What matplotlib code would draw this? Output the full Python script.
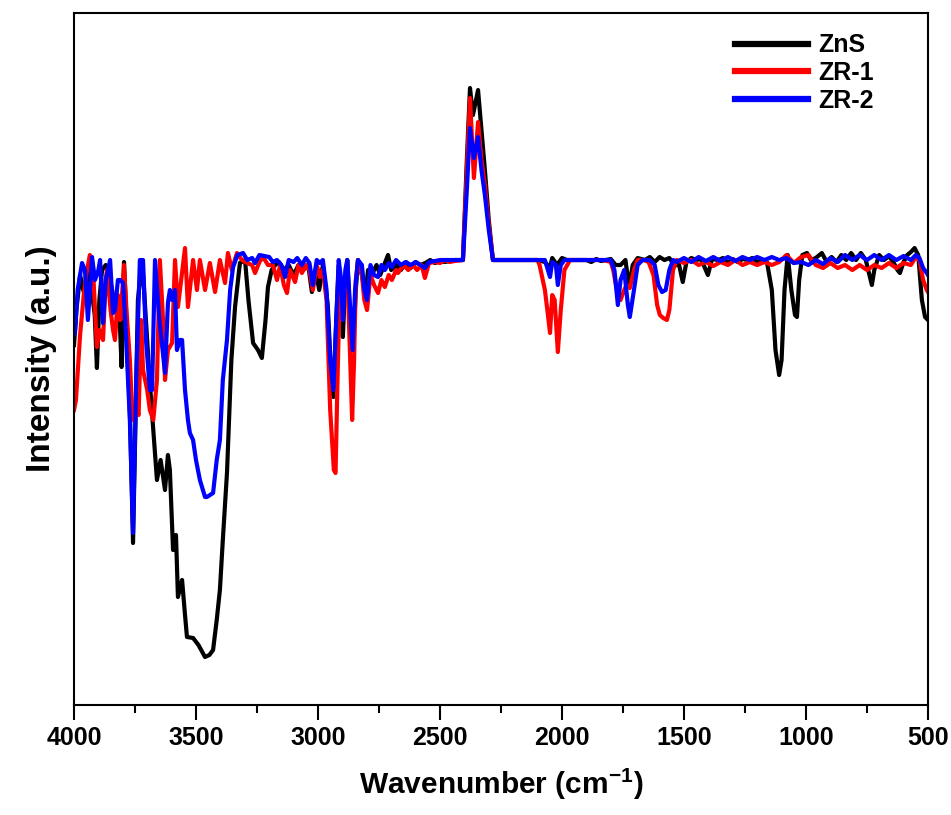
import matplotlib.pyplot as plt
from matplotlib.ticker import MultipleLocator

plt.rcParams['font.family'] = ['Liberation Sans', 'DejaVu Sans']
plt.rcParams['font.weight'] = 'bold'
plt.rcParams['mathtext.fontset'] = 'custom'
plt.rcParams['mathtext.rm'] = 'Liberation Sans:bold'
plt.rcParams['mathtext.bf'] = 'Liberation Sans:bold'

series_names = ['ZnS', 'ZR-1', 'ZR-2']
series_colors = ['black', 'red', 'blue']

# (wavenumber cm-1, intensity a.u.)
zns = [(4000, -0.85), (3990, -0.50), (3975, -0.15), (3962, -0.30), (3950, -0.40), (3938, -0.10),
       (3925, -0.35), (3915, -0.55), (3906, -1.08), (3896, -0.40), (3885, -0.10), (3870, -0.05),
       (3855, -0.15), (3840, -0.35), (3825, -0.45), (3811, -0.70), (3805, -1.07), (3795, -0.02),
       (3785, -0.60), (3770, -1.60), (3758, -2.83), (3748, -1.60), (3738, -0.40), (3725, -0.10),
       (3717, -0.13), (3705, -0.60), (3690, -1.20), (3675, -1.70), (3660, -2.20), (3645, -2.00),
       (3627, -2.30), (3615, -1.95), (3607, -2.10), (3594, -2.90), (3582, -2.75), (3574, -3.37),
       (3557, -3.20), (3545, -3.55), (3537, -3.77), (3512, -3.78), (3490, -3.85), (3463, -3.97),
       (3445, -3.95), (3430, -3.90), (3415, -3.60), (3402, -3.30), (3390, -2.80), (3373, -2.13),
       (3355, -1.00), (3340, -0.47), (3320, -0.03), (3299, 0.00), (3285, -0.40), (3266, -0.83),
       (3246, -0.90), (3230, -0.98), (3215, -0.60), (3205, -0.27), (3190, -0.10), (3175, -0.05),
       (3160, -0.02), (3140, -0.10), (3120, -0.05), (3100, -0.15), (3080, -0.05), (3060, -0.10),
       (3040, -0.05), (3025, -0.32), (3010, -0.10), (2995, -0.30), (2980, -0.05), (2960, -0.45),
       (2945, -1.20), (2937, -1.37), (2925, -0.60), (2915, -0.05), (2905, -0.50), (2898, -0.77),
       (2890, -0.30), (2880, 0.00), (2868, -0.60), (2857, -0.90), (2845, -0.30), (2836, 0.00),
       (2820, -0.15), (2805, -0.35), (2795, -0.10), (2780, -0.15), (2760, -0.05), (2745, -0.15),
       (2713, 0.05), (2700, -0.10), (2680, -0.05), (2660, -0.10), (2640, -0.02), (2620, -0.08),
       (2600, -0.02), (2580, -0.05), (2560, -0.03), (2540, 0.00), (2520, -0.03), (2500, -0.01),
       (2480, -0.02), (2460, -0.01), (2440, 0.00), (2406, 0.00), (2390, 1.00), (2377, 1.72),
       (2365, 1.45), (2344, 1.70), (2330, 1.30), (2316, 0.90), (2300, 0.40), (2283, 0.00),
       (2200, 0.00), (2100, 0.00), (2070, -0.02), (2050, -0.08), (2040, 0.02), (2020, -0.05),
       (2000, 0.02), (1980, 0.00), (1900, 0.00), (1880, -0.02), (1860, 0.01), (1840, -0.01),
       (1800, 0.01), (1780, -0.05), (1760, -0.05), (1740, 0.00), (1725, -0.27), (1710, -0.05),
       (1690, 0.02), (1660, 0.00), (1640, 0.03), (1620, -0.02), (1600, 0.03), (1580, 0.00),
       (1560, 0.02), (1540, -0.05), (1520, -0.05), (1505, -0.22), (1490, -0.02), (1470, 0.02),
       (1450, 0.00), (1430, 0.01), (1402, -0.15), (1385, 0.01), (1360, 0.00), (1340, 0.02),
       (1320, -0.03), (1300, 0.01), (1280, -0.02), (1260, 0.01), (1240, 0.00), (1220, 0.02),
       (1200, -0.02), (1180, 0.00), (1160, -0.02), (1140, -0.30), (1125, -0.90), (1110, -1.15),
       (1100, -1.00), (1088, -0.30), (1075, 0.05), (1060, -0.30), (1045, -0.55), (1037, -0.57),
       (1028, -0.20), (1015, 0.05), (996, 0.07), (980, 0.00), (960, 0.02), (935, 0.07),
       (915, -0.02), (895, 0.03), (875, -0.02), (855, 0.05), (835, 0.00), (815, 0.07),
       (795, 0.00), (775, 0.07), (755, 0.00), (740, -0.15), (730, -0.25), (720, -0.10),
       (700, 0.05), (680, 0.00), (660, 0.04), (640, -0.03), (625, -0.10), (615, -0.13),
       (600, -0.02), (585, 0.05), (570, 0.08), (555, 0.12), (540, 0.05), (525, -0.40),
       (512, -0.57), (500, -0.60)]

zr1 = [(4000, -1.50), (3992, -1.40), (3975, -0.75), (3960, -0.35), (3950, -0.15), (3935, 0.05),
       (3922, -0.10), (3906, -0.87), (3895, -0.70), (3881, -0.80), (3870, -0.20), (3865, -0.10),
       (3850, -0.50), (3840, -0.70), (3832, -0.80), (3820, -0.35), (3810, -0.60), (3795, -0.05),
       (3785, -0.50), (3771, -1.00), (3760, -1.60), (3745, -1.50), (3735, -1.55), (3725, -0.60),
       (3717, -1.10), (3700, -1.30), (3689, -1.50), (3675, -1.60), (3660, -1.20), (3648, 0.00),
       (3635, -0.60), (3627, -1.20), (3615, -0.90), (3598, -0.83), (3586, 0.00), (3574, -0.47),
       (3545, 0.12), (3533, -0.47), (3512, 0.00), (3496, -0.30), (3484, 0.00), (3463, -0.30),
       (3443, -0.03), (3422, -0.32), (3402, 0.00), (3381, -0.23), (3369, 0.07), (3353, -0.10),
       (3332, 0.07), (3312, 0.00), (3290, -0.03), (3270, -0.05), (3258, -0.13), (3240, -0.02),
       (3225, 0.03), (3205, -0.05), (3185, -0.05), (3168, -0.20), (3155, -0.05), (3140, -0.25),
       (3127, -0.33), (3115, -0.10), (3094, -0.22), (3080, -0.05), (3066, -0.13), (3050, -0.05),
       (3035, -0.10), (3021, -0.30), (3005, -0.05), (2992, -0.17), (2980, -0.10), (2965, -0.40),
       (2950, -1.50), (2935, -2.10), (2928, -2.13), (2920, -1.20), (2910, -0.20), (2900, -0.50),
       (2890, -0.20), (2880, -0.10), (2868, -1.00), (2860, -1.60), (2852, -1.00), (2845, -0.20),
       (2836, 0.00), (2820, -0.15), (2810, -0.40), (2799, -0.50), (2785, -0.15), (2770, -0.25),
       (2754, -0.33), (2740, -0.20), (2726, -0.27), (2710, -0.15), (2697, -0.20), (2680, -0.10),
       (2672, -0.13), (2650, -0.05), (2630, -0.10), (2610, -0.05), (2594, -0.10), (2575, -0.05),
       (2562, -0.18), (2545, -0.03), (2520, -0.02), (2500, -0.03), (2480, 0.00), (2460, -0.02),
       (2440, -0.01), (2406, 0.00), (2390, 0.90), (2377, 1.62), (2361, 0.82), (2344, 1.38),
       (2330, 1.00), (2316, 0.75), (2300, 0.35), (2283, 0.00), (2200, 0.00), (2100, 0.00),
       (2092, -0.05), (2070, -0.30), (2060, -0.50), (2049, -0.73), (2040, -0.35), (2030, -0.40),
       (2017, -0.92), (2005, -0.50), (1990, -0.10), (1967, 0.00), (1900, 0.00), (1830, 0.00),
       (1800, -0.02), (1790, -0.10), (1775, -0.30), (1760, -0.40), (1745, -0.30), (1735, -0.25),
       (1722, -0.28), (1705, -0.10), (1690, 0.00), (1665, 0.00), (1645, -0.02), (1625, -0.15),
       (1610, -0.45), (1599, -0.55), (1585, -0.58), (1570, -0.60), (1560, -0.50), (1545, -0.10),
       (1530, 0.00), (1500, -0.03), (1470, 0.00), (1440, -0.05), (1410, -0.02), (1380, -0.06),
       (1350, -0.02), (1320, -0.05), (1290, 0.00), (1260, -0.05), (1230, -0.02), (1200, -0.05),
       (1170, -0.02), (1140, -0.05), (1110, -0.02), (1080, 0.05), (1050, -0.03), (1020, 0.03),
       (990, 0.05), (960, -0.05), (930, -0.08), (900, -0.03), (870, -0.08), (840, -0.05),
       (810, -0.10), (780, -0.05), (750, -0.10), (720, -0.05), (690, -0.08), (660, -0.03),
       (630, -0.08), (600, -0.03), (570, -0.05), (550, 0.03), (535, 0.00), (520, -0.20),
       (505, -0.30), (500, -0.32)]

zr2 = [(4000, -0.75), (3996, -0.73), (3985, -0.30), (3967, -0.03), (3955, -0.10), (3943, -0.60),
       (3926, 0.03), (3914, -0.20), (3900, -0.10), (3893, 0.00), (3881, -0.63), (3870, -0.20),
       (3852, 0.00), (3840, -0.53), (3832, -0.50), (3820, -0.20), (3811, -0.20), (3799, -0.23),
       (3790, -0.60), (3771, -1.60), (3758, -2.73), (3745, -1.20), (3730, 0.00), (3717, 0.00),
       (3705, -0.80), (3689, -1.30), (3680, -1.30), (3668, 0.00), (3650, -0.60), (3627, -1.13),
       (3615, -0.43), (3607, -0.30), (3598, -0.40), (3586, -0.30), (3578, -0.90), (3566, -0.80),
       (3557, -0.80), (3545, -1.30), (3533, -1.60), (3525, -1.73), (3512, -1.80), (3500, -2.00),
       (3484, -2.20), (3463, -2.37), (3455, -2.37), (3430, -2.33), (3415, -2.00), (3402, -1.80),
       (3390, -1.20), (3373, -0.80), (3360, -0.30), (3348, -0.07), (3330, 0.05), (3307, 0.07),
       (3290, 0.00), (3270, 0.02), (3258, -0.03), (3240, 0.05), (3200, 0.03), (3185, -0.02),
       (3168, 0.00), (3150, -0.05), (3135, -0.17), (3120, 0.00), (3100, -0.02), (3085, 0.02),
       (3066, -0.05), (3050, 0.02), (3035, -0.03), (3021, -0.25), (3005, 0.00), (2992, -0.03),
       (2980, 0.00), (2965, -0.30), (2950, -1.00), (2937, -1.30), (2925, -0.60), (2915, 0.00),
       (2905, -0.20), (2898, -0.60), (2888, -0.10), (2880, 0.00), (2868, -0.50), (2858, -0.90),
       (2848, -0.30), (2836, 0.00), (2820, -0.05), (2810, -0.30), (2799, -0.40), (2785, -0.05),
       (2770, -0.15), (2754, -0.17), (2740, -0.05), (2726, -0.10), (2710, -0.03), (2697, -0.07),
       (2680, 0.00), (2660, -0.05), (2640, -0.02), (2620, -0.05), (2600, -0.02), (2580, -0.05),
       (2562, -0.08), (2545, -0.02), (2520, -0.01), (2500, 0.00), (2406, 0.00), (2390, 0.70),
       (2377, 1.32), (2361, 1.02), (2344, 1.23), (2330, 0.90), (2316, 0.65), (2300, 0.30),
       (2283, 0.00), (2070, 0.00), (2060, -0.08), (2049, -0.17), (2040, -0.02), (2025, -0.05),
       (2017, -0.25), (2005, -0.05), (1990, 0.00), (1800, 0.00), (1785, -0.10), (1771, -0.45),
       (1760, -0.20), (1745, -0.10), (1730, -0.45), (1722, -0.57), (1705, -0.30), (1690, -0.05),
       (1670, 0.00), (1640, 0.00), (1620, -0.05), (1605, -0.25), (1590, -0.32), (1575, -0.30),
       (1560, -0.10), (1545, 0.00), (1530, -0.02), (1500, 0.02), (1470, -0.02), (1440, 0.03),
       (1410, -0.01), (1380, 0.03), (1350, -0.01), (1320, 0.03), (1290, -0.01), (1260, 0.03),
       (1230, 0.00), (1200, 0.03), (1170, 0.00), (1140, 0.03), (1110, 0.00), (1080, 0.02),
       (1050, -0.03), (1020, -0.02), (990, -0.05), (960, 0.00), (930, -0.04), (900, 0.02),
       (870, -0.02), (840, 0.05), (810, 0.00), (780, 0.05), (750, 0.00), (720, 0.05),
       (690, 0.00), (660, 0.05), (630, 0.00), (600, 0.04), (570, 0.00), (550, 0.05),
       (535, 0.02), (520, -0.08), (505, -0.13), (500, -0.15)]

fig = plt.figure(figsize=(9.51, 8.15), dpi=100)
ax = fig.add_axes([0.0778, 0.135, 0.898, 0.849])

for pts, name, col in zip([zns, zr1, zr2], series_names, series_colors):
    x = [p[0] for p in pts]
    y = [p[1] for p in pts]
    ax.plot(x, y, color=col, lw=3.0, label=name, solid_joinstyle='round')

ax.set_xlim(4000, 500)
ax.set_ylim(-4.45, 2.47)
ax.xaxis.set_major_locator(MultipleLocator(500))
ax.xaxis.set_minor_locator(MultipleLocator(250))
ax.tick_params(axis='x', which='major', direction='out', length=11, width=1.5,
               labelsize=18, pad=4)
ax.tick_params(axis='x', which='minor', direction='out', length=6, width=1.5)
ax.set_yticks([])
for s in ax.spines.values():
    s.set_linewidth(1.5)

ax.set_xlabel('Wavenumber (cm$^{-1}$)', fontsize=21.5, fontweight='bold', labelpad=12)
ax.set_ylabel('Intensity (a.u.)', fontsize=24, fontweight='bold', labelpad=12)

leg = ax.legend(loc='upper right', bbox_to_anchor=(0.948, 0.985), frameon=False,
                fontsize=18, handlelength=2.9, handletextpad=0.4, labelspacing=0.15,
                borderaxespad=0)
for line in leg.get_lines():
    line.set_linewidth(4.5)

fig.savefig('out.png', dpi=100)
